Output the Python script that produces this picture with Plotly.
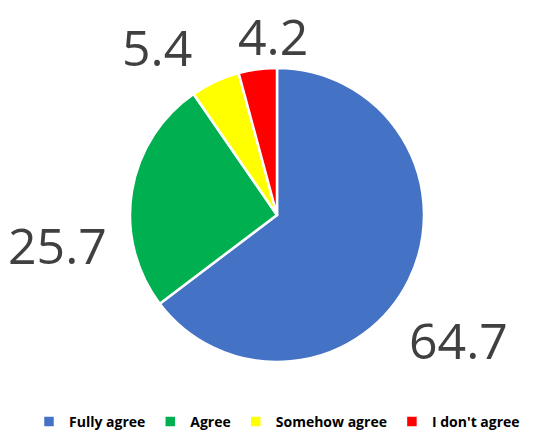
import plotly.graph_objects as go

# Survey response shares (percent)
categories = ["Fully agree", "Agree", "Somehow agree", "I don't agree"]
values = [64.7, 25.7, 5.4, 4.2]
colors = ["#4472C4", "#00B050", "#FFFF00", "#FF0000"]

# Where each value label sits (paper coordinates, label centre)
label_x = [0.827, 0.103, 0.283, 0.493]
label_y = [0.223, 0.44, 0.892, 0.917]

W, H = 554, 438
cx, cy, r = 277, 215, 147

fig = go.Figure(
    go.Pie(
        labels=categories,
        values=values,
        sort=False,
        direction="clockwise",
        rotation=0,
        marker=dict(colors=colors, line=dict(color="white", width=2.5)),
        textinfo="none",
        hoverinfo="label+value",
        domain=dict(x=[(cx - r) / W, (cx + r) / W], y=[1 - (cy + r) / H, 1 - (cy - r) / H]),
    )
)

for v, x, y in zip(values, label_x, label_y):
    fig.add_annotation(
        x=x, y=y, xref="paper", yref="paper",
        xanchor="center", yanchor="middle", height=54,
        text=f"{v:.1f}", showarrow=False,
        font=dict(family="Open Sans", size=50, color="#404040"),
    )

fig.update_layout(
    width=W, height=H,
    margin=dict(l=0, r=0, t=0, b=0),
    paper_bgcolor="white",
    showlegend=True,
    legend=dict(
        orientation="h", x=0.5, xanchor="center", y=0.0, yanchor="bottom",
        font=dict(family="Open Sans", size=14, color="#000000", weight="bold"),
        itemwidth=30, traceorder="normal",
    ),
)

fig.write_html("out.html")
